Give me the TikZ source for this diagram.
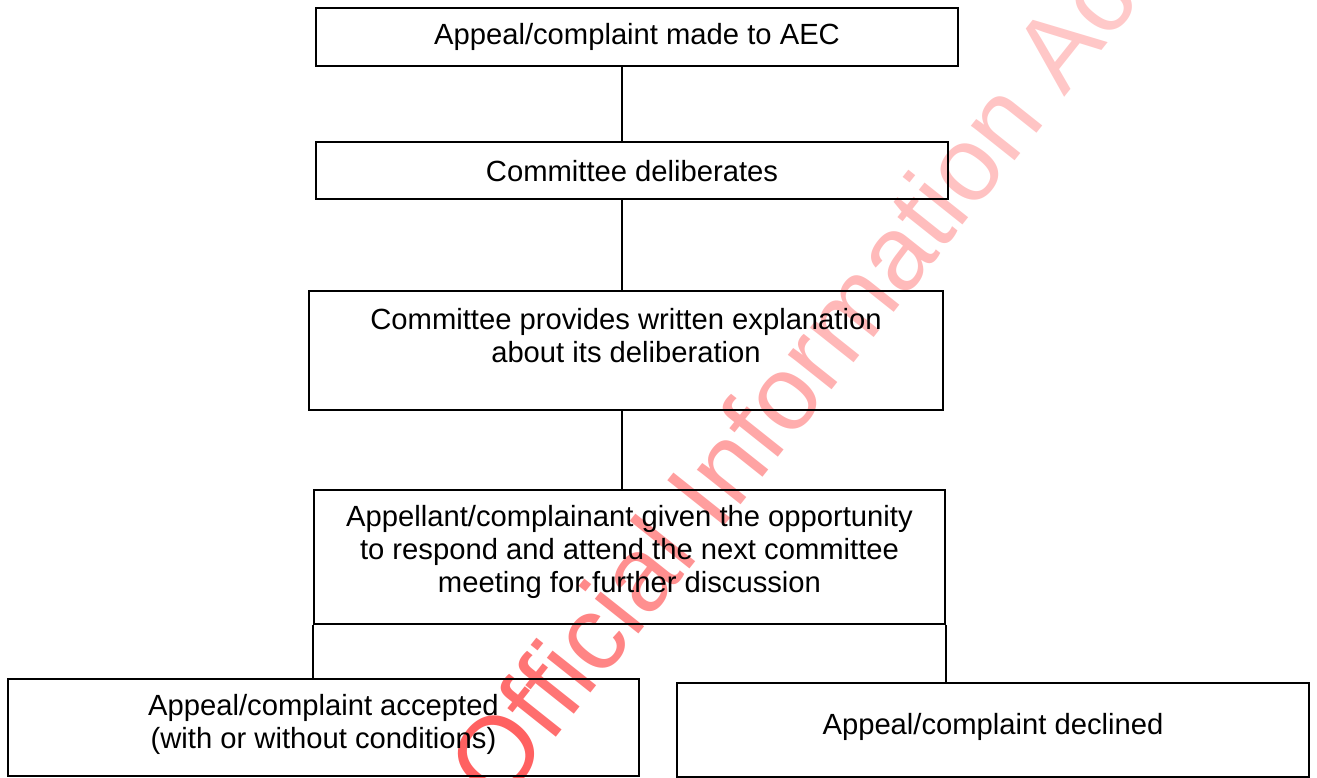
\documentclass[tikz,border=0pt]{standalone}
\usepackage{fontspec}
\setmainfont{Liberation Sans}
\begin{document}
\begin{tikzpicture}[x=1pt,y=-1pt,
  box/.style={draw=black, line width=1.8pt, inner sep=0pt, minimum width=#1},
  txt/.style={align=center, inner sep=0pt, font=\fontsize{29.2}{33}\selectfont},
  link/.style={draw=black, line width=1.3pt},
  wm/.style={inner sep=0pt, anchor=base west, rotate=51.5, font=\fontsize{105.5}{105.5}\selectfont}]
\useasboundingbox (0,0) rectangle (1317,778);
% watermark
\node[wm] (water) at (499,809) {\textcolor{red!62}{O}\textcolor{red!57}{f}\textcolor{red!54}{f}\textcolor{red!51}{i}\textcolor{red!48}{c}\textcolor{red!46}{i}\textcolor{red!44}{a}\textcolor{red!42}{l} \textcolor{red!38}{I}\textcolor{red!36}{n}\textcolor{red!34}{f}\textcolor{red!32}{o}\textcolor{red!30}{r}\textcolor{red!28}{m}\textcolor{red!27}{a}\textcolor{red!26}{t}\textcolor{red!25}{i}\textcolor{red!24}{o}\textcolor{red!23}{n} \textcolor{red!22}{A}\textcolor{red!21}{c}\textcolor{red!20}{t}};
% boxes
\node[box=642pt, minimum height=58pt] (b1) at (637,37) {};
\node[txt] (t1) at (637,37) {Appeal/complaint made to AEC};
\node[box=632pt, minimum height=57pt] (b2) at (632,170.5) {};
\node[txt] (t2) at (632,171) {Committee deliberates};
\node[box=634pt, minimum height=119pt] (b3) at (626,350.5) {};
\node[txt] (t3) at (626,336) {Committee provides written explanation\\about its deliberation};
\node[box=631pt, minimum height=134pt] (b4) at (629.5,557) {};
\node[txt] (t4) at (629.5,552) {Appellant/complainant given the opportunity\\to respond and attend the next committee\\meeting for further discussion};
\node[box=631pt, minimum height=97pt] (b5) at (323.5,727.5) {};
\node[txt] (t5) at (323.5,724.5) {Appeal/complaint accepted\\(with or without conditions)};
\node[box=632pt, minimum height=94pt] (b6) at (993,730) {};
\node[txt] (t6) at (993,727) {Appeal/complaint declined};
% connectors
\coordinate (cx) at (622,0);
\draw[link] (cx |- b1.south) -- (cx |- b2.north);
\draw[link] (cx |- b2.south) -- (cx |- b3.north);
\draw[link] (cx |- b3.south) -- (cx |- b4.north);
\draw[link] (b4.south west) -- (b4.south west |- b5.north);
\draw[link] (b4.south east) -- (b4.south east |- b6.north);
\end{tikzpicture}
\end{document}
